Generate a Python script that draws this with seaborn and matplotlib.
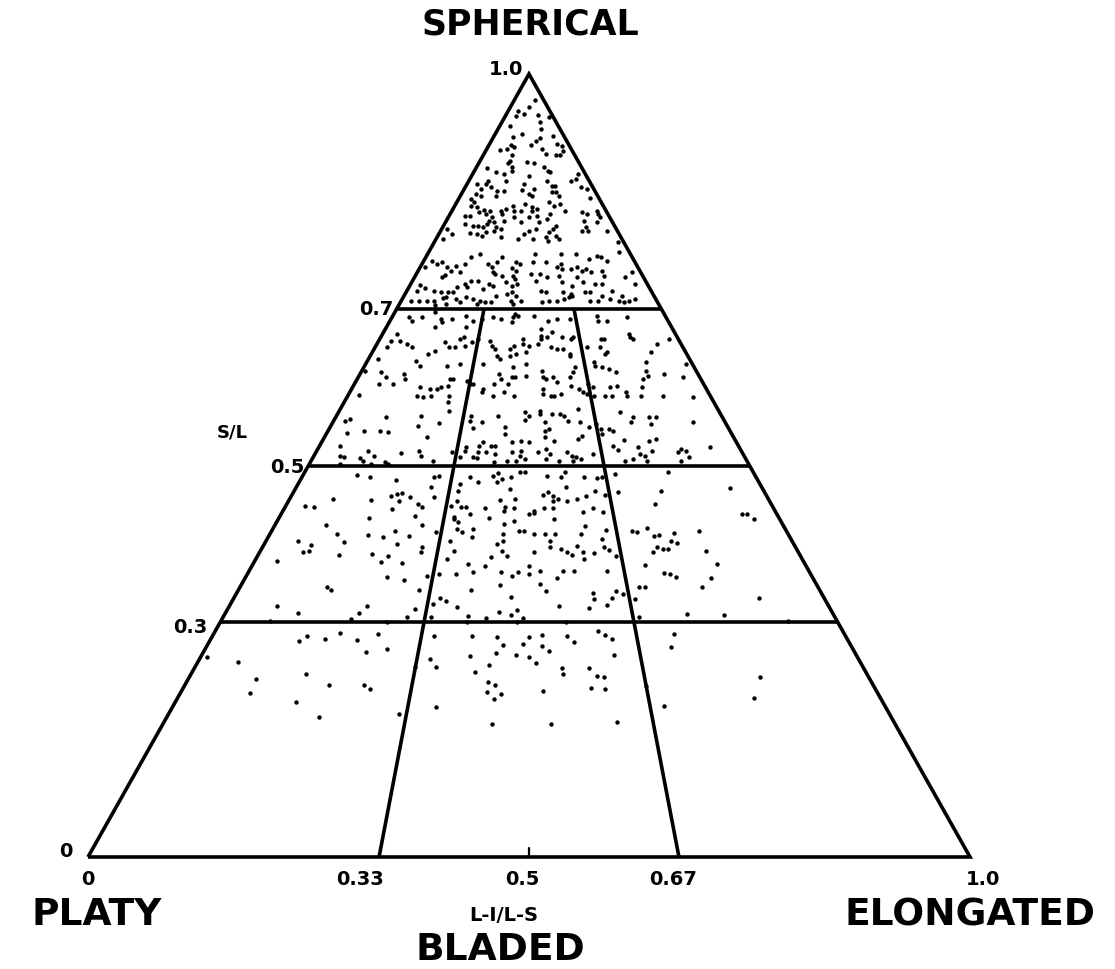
import numpy as np
import pandas as pd
import matplotlib
matplotlib.use("Agg")
import matplotlib.pyplot as plt
import seaborn as sns

# Particle shape measurements as (S/L, L-I/L-S) pairs, grouped by sphericity zone
upper_points = [
    (0.967,0.71),(0.958,0.50),(0.953,0.24),(0.946,0.23),(0.949,0.39),(0.948,0.69),(0.945,0.91),(0.939,0.70),
    (0.934,0.18),(0.923,0.40),(0.920,0.28),(0.930,0.69),(0.921,0.84),(0.918,0.65),(0.914,0.59),(0.909,0.53),
    (0.909,0.28),(0.907,0.32),(0.904,0.24),(0.903,0.16),(0.904,0.65),(0.898,0.69),(0.897,0.80),(0.897,0.84),
    (0.911,0.86),(0.908,0.91),(0.902,0.89),(0.897,0.31),(0.889,0.31),(0.886,0.29),(0.881,0.34),(0.876,0.34),
    (0.888,0.48),(0.886,0.55),(0.880,0.10),(0.875,0.20),(0.872,0.28),(0.881,0.64),(0.876,0.67),(0.875,0.69),
    (0.870,0.50),(0.872,0.93),(0.863,0.85),(0.866,0.90),(0.860,0.46),(0.863,0.16),(0.860,0.15),(0.860,0.08),
    (0.853,0.13),(0.856,0.20),(0.851,0.26),(0.851,0.31),(0.863,0.31),(0.852,0.45),(0.847,0.50),(0.853,0.54),
    (0.844,0.52),(0.863,0.65),(0.857,0.68),(0.857,0.71),(0.849,0.67),(0.849,0.70),(0.844,0.72),(0.856,0.91),
    (0.853,0.95),(0.842,0.94),(0.847,0.11),(0.840,0.09),(0.837,0.12),(0.844,0.15),(0.844,0.26),(0.831,0.11),
    (0.830,0.15),(0.824,0.18),(0.826,0.21),(0.821,0.23),(0.825,0.25),(0.825,0.32),(0.821,0.33),(0.828,0.35),
    (0.825,0.40),(0.831,0.39),(0.825,0.45),(0.834,0.47),(0.830,0.52),(0.825,0.52),(0.828,0.55),(0.837,0.64),
    (0.831,0.67),(0.834,0.71),(0.821,0.63),(0.825,0.73),(0.824,0.84),(0.821,0.87),(0.825,0.94),(0.821,0.94),
    (0.817,0.94),(0.811,0.91),(0.819,0.10),(0.819,0.13),(0.808,0.12),(0.806,0.17),(0.806,0.20),(0.805,0.23),
    (0.808,0.25),(0.812,0.26),(0.817,0.27),(0.811,0.29),(0.805,0.31),(0.812,0.35),(0.817,0.41),(0.811,0.45),
    (0.817,0.50),(0.819,0.55),(0.811,0.56),(0.815,0.61),(0.806,0.66),(0.802,0.64),(0.812,0.83),(0.805,0.83),
    (0.799,0.80),(0.799,0.83),(0.799,0.94),(0.802,0.03),(0.796,0.07),(0.789,0.04),(0.797,0.17),(0.796,0.21),
    (0.793,0.24),(0.798,0.26),(0.799,0.30),(0.802,0.34),(0.792,0.35),(0.789,0.44),(0.796,0.47),(0.799,0.50),
    (0.802,0.54),(0.789,0.52),(0.792,0.59),(0.787,0.60),(0.793,0.65),(0.789,0.66),(0.798,0.61),(0.785,0.97),
    (0.761,0.04),(0.757,0.07),(0.760,0.09),(0.754,0.12),(0.755,0.16),(0.748,0.15),(0.747,0.19),(0.757,0.20),
    (0.766,0.22),(0.770,0.26),(0.757,0.31),(0.754,0.33),(0.760,0.35),(0.766,0.37),(0.747,0.34),(0.745,0.35),
    (0.742,0.38),(0.752,0.42),(0.742,0.43),(0.754,0.02),(0.743,0.13),(0.741,0.12),(0.731,0.04),(0.727,0.07),
    (0.723,0.11),(0.722,0.14),(0.722,0.17),(0.722,0.19),(0.728,0.20),(0.732,0.23),(0.728,0.24),(0.736,0.25),
    (0.736,0.28),(0.725,0.31),(0.732,0.33),(0.729,0.35),(0.734,0.40),(0.729,0.43),(0.723,0.04),(0.710,0.04),
    (0.710,0.07),(0.710,0.10),(0.710,0.13),(0.714,0.16),(0.715,0.17),(0.713,0.21),(0.709,0.23),(0.715,0.25),
    (0.713,0.28),(0.710,0.31),(0.709,0.33),(0.709,0.35),(0.716,0.37),(0.719,0.41),(0.722,0.43),(0.705,0.14),
    (0.706,0.18),(0.706,0.30),
    (0.760,0.44),(0.757,0.46),(0.770,0.53),(0.760,0.58),(0.760,0.52),(0.770,0.66),(0.757,0.65),(0.770,0.73),
    (0.764,0.79),(0.768,0.83),(0.766,0.85),(0.761,0.87),(0.773,0.95),(0.748,0.44),(0.745,0.51),(0.745,0.55),
    (0.741,0.58),(0.736,0.53),(0.754,0.63),(0.751,0.65),(0.751,0.69),(0.754,0.72),(0.748,0.74),(0.751,0.76),
    (0.747,0.78),(0.748,0.83),(0.742,0.83),(0.741,0.71),(0.742,0.63),(0.734,0.64),(0.729,0.68),(0.734,0.73),
    (0.732,0.78),(0.732,0.81),(0.741,0.92),(0.747,0.96),(0.732,0.95),(0.738,0.44),(0.732,0.45),(0.716,0.45),
    (0.723,0.55),(0.722,0.57),(0.722,0.64),(0.719,0.67),(0.722,0.73),(0.722,0.75),(0.716,0.79),(0.723,0.84),
    (0.716,0.87),(0.709,0.55),(0.710,0.58),(0.710,0.61),(0.713,0.64),(0.715,0.66),(0.716,0.67),(0.710,0.74),
    (0.710,0.77),(0.713,0.82),(0.710,0.85),(0.709,0.87),(0.710,0.89),(0.713,0.92),(0.706,0.44),(0.710,0.43),
    (0.710,0.47),
]

middle_points = [
    (0.690,0.06),(0.685,0.08),(0.690,0.11),(0.696,0.15),(0.687,0.18),(0.683,0.19),(0.687,0.22),(0.691,0.27),
    (0.677,0.17),(0.677,0.28),(0.685,0.30),(0.687,0.33),(0.690,0.37),(0.687,0.40),(0.690,0.44),(0.668,0.05),
    (0.659,0.04),(0.659,0.07),(0.651,0.04),(0.655,0.10),(0.651,0.12),(0.658,0.22),(0.651,0.24),(0.651,0.26),
    (0.662,0.27),(0.664,0.28),(0.653,0.29),(0.658,0.31),(0.662,0.33),(0.659,0.37),(0.653,0.38),(0.649,0.39),
    (0.646,0.20),(0.642,0.18),(0.636,0.03),(0.633,0.15),(0.627,0.17),(0.627,0.25),(0.630,0.29),(0.630,0.36),
    (0.640,0.40),(0.636,0.41),(0.640,0.44),(0.621,0.01),(0.619,0.06),(0.613,0.08),(0.617,0.13),(0.610,0.14),
    (0.604,0.11),(0.604,0.07),(0.610,0.27),(0.610,0.28),(0.608,0.32),(0.604,0.33),(0.604,0.34),(0.617,0.41),
    (0.610,0.42),(0.604,0.40),(0.604,0.44),(0.613,0.45),(0.600,0.19),(0.598,0.22),(0.598,0.24),(0.600,0.25),
    (0.602,0.27),(0.589,0.19),(0.587,0.21),(0.589,0.23),(0.589,0.28),(0.594,0.37),(0.598,0.37),(0.589,0.40),
    (0.594,0.43),(0.590,0.03),(0.563,0.22),(0.581,0.28),(0.570,0.29),(0.563,0.35),(0.563,0.42),(0.559,0.04),
    (0.562,0.13),
    (0.693,0.45),(0.691,0.46),(0.683,0.44),(0.691,0.52),(0.685,0.57),(0.687,0.60),(0.687,0.65),(0.691,0.75),
    (0.685,0.75),(0.685,0.78),(0.690,0.86),(0.674,0.54),(0.670,0.58),(0.665,0.54),(0.662,0.54),(0.664,0.56),
    (0.664,0.61),(0.662,0.64),(0.664,0.65),(0.662,0.48),(0.655,0.48),(0.653,0.45),(0.649,0.44),(0.653,0.50),
    (0.655,0.53),(0.651,0.57),(0.649,0.59),(0.649,0.61),(0.642,0.63),(0.640,0.63),(0.645,0.49),(0.642,0.46),
    (0.662,0.74),(0.662,0.75),(0.651,0.73),(0.642,0.74),(0.645,0.75),(0.651,0.69),(0.632,0.70),(0.627,0.70),
    (0.626,0.72),(0.623,0.74),(0.619,0.76),(0.664,0.84),(0.662,0.85),(0.668,0.84),(0.655,0.92),(0.645,0.89),
    (0.662,0.97),(0.632,0.86),(0.621,0.85),(0.614,0.85),(0.617,0.90),(0.630,0.98),(0.613,0.95),(0.610,0.83),
    (0.600,0.82),(0.589,0.81),(0.589,0.87),(0.587,0.95),(0.594,0.77),(0.589,0.77),(0.602,0.75),(0.600,0.73),
    (0.589,0.73),(0.589,0.71),(0.630,0.49),(0.626,0.45),(0.613,0.46),(0.614,0.49),(0.621,0.54),(0.613,0.54),
    (0.610,0.55),(0.613,0.57),(0.607,0.58),(0.598,0.54),(0.591,0.54),(0.589,0.56),(0.589,0.57),(0.591,0.59),
    (0.613,0.62),(0.602,0.62),(0.619,0.63),(0.626,0.64),(0.598,0.64),(0.594,0.65),(0.591,0.66),(0.589,0.68),
    (0.604,0.67),(0.600,0.68),(0.589,0.46),(0.568,0.49),(0.563,0.50),(0.570,0.53),(0.566,0.53),(0.566,0.56),
    (0.566,0.58),(0.563,0.59),(0.572,0.63),(0.568,0.74),(0.562,0.77),(0.562,0.81),(0.562,0.83),
    (0.557,0.03),(0.544,0.09),(0.544,0.13),(0.543,0.15),(0.541,0.05),(0.550,0.22),(0.525,0.05),(0.519,0.12),
    (0.512,0.06),(0.511,0.07),(0.510,0.11),(0.506,0.12),(0.512,0.14),(0.502,0.14),(0.516,0.20),(0.502,0.07),
    (0.504,0.17),(0.502,0.18),(0.519,0.24),(0.512,0.25),
    (0.554,0.27),(0.536,0.25),(0.557,0.35),(0.556,0.38),(0.548,0.36),(0.549,0.44),(0.540,0.44),(0.558,0.49),
    (0.556,0.54),(0.544,0.54),(0.547,0.55),(0.557,0.60),(0.556,0.63),(0.549,0.65),(0.538,0.63),(0.534,0.62),
    (0.530,0.39),(0.525,0.38),(0.525,0.41),(0.525,0.42),(0.524,0.35),(0.519,0.35),(0.517,0.38),(0.517,0.40),
    (0.515,0.42),(0.530,0.46),(0.531,0.48),(0.530,0.50),(0.517,0.46),(0.519,0.48),(0.512,0.48),(0.517,0.52),
    (0.536,0.54),(0.521,0.54),(0.515,0.55),(0.531,0.56),(0.517,0.59),(0.512,0.60),(0.511,0.61),(0.508,0.62),
    (0.515,0.65),(0.517,0.32),(0.511,0.34),(0.511,0.37),(0.510,0.38),(0.506,0.45),(0.506,0.47),(0.508,0.49),
    (0.504,0.42),(0.508,0.54),(0.506,0.57),(0.506,0.60),(0.506,0.28),
    (0.553,0.67),(0.547,0.68),(0.540,0.68),(0.547,0.70),(0.544,0.71),(0.556,0.76),(0.553,0.81),(0.556,0.92),
    (0.533,0.73),(0.525,0.70),(0.520,0.71),(0.524,0.76),(0.531,0.79),(0.534,0.81),(0.519,0.79),(0.515,0.76),
    (0.512,0.77),(0.506,0.72),(0.508,0.74),(0.506,0.77),(0.517,0.85),(0.521,0.86),(0.519,0.87),(0.511,0.87),
    (0.506,0.85),(0.524,0.93),
]

lower_points = [
    (0.488,0.12),(0.485,0.15),(0.481,0.21),(0.457,0.09),(0.456,0.17),(0.461,0.21),(0.464,0.22),(0.465,0.23),
    (0.455,0.23),(0.460,0.25),(0.451,0.27),(0.447,0.28),(0.448,0.04),(0.447,0.06),(0.444,0.22),(0.436,0.27),
    (0.433,0.18),(0.424,0.10),(0.424,0.29),(0.413,0.13),(0.411,0.19),(0.409,0.22),(0.416,0.24),(0.410,0.27),
    (0.404,0.06),(0.402,0.15),(0.398,0.09),(0.400,0.25),(0.390,0.08),(0.391,0.09),(0.386,0.15),(0.387,0.21),
    (0.384,0.24),(0.390,0.30),(0.378,0.04),(0.377,0.23),(0.375,0.27),(0.358,0.25),(0.354,0.28),(0.345,0.15),
    (0.485,0.29),(0.487,0.30),(0.473,0.29),(0.460,0.30),(0.476,0.35),(0.467,0.35),(0.455,0.35),(0.448,0.34),
    (0.447,0.36),(0.447,0.37),(0.485,0.37),(0.479,0.39),(0.487,0.42),(0.490,0.43),(0.479,0.43),(0.483,0.44),
    (0.485,0.46),(0.492,0.48),(0.492,0.49),(0.487,0.54),(0.492,0.58),(0.485,0.57),(0.485,0.62),(0.467,0.64),
    (0.470,0.46),(0.456,0.44),(0.457,0.47),(0.447,0.45),(0.442,0.45),(0.446,0.47),(0.446,0.41),(0.438,0.38),
    (0.433,0.42),(0.438,0.50),(0.442,0.51),(0.439,0.51),(0.446,0.53),(0.462,0.53),(0.466,0.54),(0.446,0.55),
    (0.455,0.55),(0.461,0.55),(0.457,0.56),(0.473,0.58),(0.455,0.58),(0.457,0.60),(0.461,0.62),(0.441,0.61),
    (0.432,0.55),(0.425,0.45),(0.429,0.47),(0.416,0.48),(0.416,0.49),(0.434,0.35),(0.432,0.35),(0.428,0.36),
    (0.419,0.36),(0.415,0.37),(0.419,0.39),(0.409,0.39),(0.415,0.32),(0.396,0.30),(0.404,0.35),(0.391,0.36),
    (0.381,0.35),(0.413,0.45),(0.404,0.45),(0.400,0.44),(0.391,0.45),(0.384,0.46),(0.383,0.43),(0.390,0.51),
    (0.413,0.51),(0.413,0.53),(0.413,0.55),(0.404,0.54),(0.396,0.54),(0.393,0.56),(0.390,0.57),(0.386,0.58),
    (0.397,0.59),(0.413,0.60),(0.423,0.61),(0.390,0.60),(0.374,0.39),(0.372,0.42),(0.364,0.40),(0.361,0.37),
    (0.361,0.34),(0.359,0.32),(0.364,0.45),(0.372,0.50),(0.364,0.48),(0.359,0.47),(0.361,0.50),(0.365,0.52),
    (0.356,0.55),(0.365,0.56),(0.365,0.58),(0.381,0.60),(0.347,0.45),(0.349,0.52),
    (0.484,0.65),(0.485,0.66),(0.489,0.69),(0.492,0.81),(0.462,0.66),(0.466,0.69),(0.467,0.78),(0.451,0.76),
    (0.471,0.93),(0.446,0.63),(0.441,0.65),(0.416,0.70),(0.415,0.71),(0.420,0.73),(0.410,0.74),(0.411,0.75),
    (0.414,0.78),(0.404,0.77),(0.401,0.78),(0.416,0.83),(0.438,0.93),(0.438,0.94),(0.432,0.95),(0.418,0.65),
    (0.406,0.64),(0.396,0.64),(0.392,0.65),(0.388,0.62),(0.384,0.66),(0.396,0.74),(0.390,0.73),(0.393,0.75),
    (0.393,0.76),(0.391,0.83),(0.373,0.71),(0.374,0.84),(0.365,0.64),(0.363,0.74),(0.362,0.75),(0.358,0.76),
    (0.356,0.82),(0.345,0.69),(0.345,0.70),(0.345,0.80),
    (0.341,0.16),(0.321,0.08),(0.312,0.12),(0.321,0.23),(0.312,0.22),(0.304,0.21),(0.301,0.08),(0.300,0.27),
    (0.341,0.31),(0.331,0.35),(0.327,0.36),(0.341,0.40),(0.332,0.47),(0.340,0.53),(0.317,0.31),(0.307,0.30),
    (0.323,0.34),(0.307,0.34),(0.319,0.38),(0.308,0.40),(0.300,0.40),(0.305,0.43),(0.313,0.45),(0.309,0.47),
    (0.315,0.48),(0.305,0.49),(0.300,0.48),(0.321,0.55),(0.300,0.56),(0.318,0.60),
    (0.337,0.61),(0.330,0.61),(0.340,0.65),(0.336,0.66),(0.331,0.64),(0.322,0.63),(0.330,0.68),(0.307,0.68),
    (0.310,0.76),(0.309,0.82),(0.331,0.89),(0.301,0.92),
]

base_points = [
    (0.276,0.14),(0.282,0.15),(0.278,0.18),(0.286,0.20),(0.277,0.23),(0.285,0.26),(0.262,0.25),(0.266,0.28),
    (0.255,0.01),(0.249,0.06),(0.227,0.10),(0.234,0.17),(0.220,0.21),(0.220,0.26),(0.215,0.27),(0.209,0.10),
    (0.198,0.17),(0.179,0.21),
    (0.282,0.35),(0.282,0.41),(0.281,0.45),(0.271,0.46),(0.261,0.45),(0.272,0.49),(0.281,0.50),(0.284,0.52),
    (0.269,0.52),(0.263,0.53),(0.258,0.48),(0.255,0.50),(0.248,0.51),(0.282,0.56),(0.275,0.57),(0.257,0.41),
    (0.253,0.35),(0.243,0.36),(0.243,0.33),(0.245,0.44),(0.236,0.42),(0.241,0.55),(0.234,0.55),(0.241,0.59),
    (0.224,0.44),(0.220,0.45),(0.211,0.44),(0.208,0.46),(0.202,0.45),(0.212,0.52),(0.216,0.59),(0.192,0.37),
    (0.183,0.32),(0.170,0.45),(0.170,0.53),
    (0.289,0.61),(0.284,0.62),(0.278,0.63),(0.285,0.73),(0.268,0.72),(0.258,0.63),(0.231,0.60),(0.230,0.61),
    (0.215,0.61),(0.218,0.67),(0.193,0.69),(0.230,0.84),(0.203,0.82),(0.172,0.62),
]

# Class boundaries and axis labels
sl_limits = [0.3, 0.5, 0.7]
li_limits = [0.33, 0.67]
sl_tick_values = [1.0, 0.7, 0.5, 0.3, 0.0]
sl_tick_labels = ["1.0", "0.7", "0.5", "0.3", "0"]
li_tick_values = [0.0, 0.33, 0.5, 0.67, 1.0]
li_tick_labels = ["0", "0.33", "0.5", "0.67", "1.0"]


def project(sl, li):
    """Map (S/L, L-I/L-S) onto the triangle: apex at S/L = 1, base at S/L = 0."""
    sl = np.asarray(sl, dtype=float)
    li = np.asarray(li, dtype=float)
    return 0.5 * sl + li * (1.0 - sl), sl


pairs = np.array(upper_points + middle_points + lower_points + base_points)
px, py = project(pairs[:, 0], pairs[:, 1])
df = pd.DataFrame({"x": px, "y": py})

sns.set_theme(style="white")
plt.rcParams["font.family"] = ["DejaVu Sans"]
plt.rcParams["text.color"] = "black"

fig = plt.figure(figsize=(11.15, 9.70), dpi=100)
ax = fig.add_axes([88 / 1115, 112 / 970, 882 / 1115, 783 / 970])
ax.set_xlim(0, 1)
ax.set_ylim(0, 1)
ax.set_axis_off()

LW = 2.6
line_kw = dict(color="black", lw=LW, solid_capstyle="butt", clip_on=False, zorder=3)

# Outer triangle
tx, ty = project([0, 0, 1, 0], [0, 1, 0, 0])
ax.plot(tx, ty, solid_joinstyle="miter", **line_kw)

# Horizontal sphericity limits
for s in sl_limits:
    hx, hy = project([s, s], [0, 1])
    ax.plot(hx, hy, **line_kw)

# Converging form limits from the base up to S/L = 0.7
for t in li_limits:
    vx, vy = project([0, 0.7], [t, t])
    ax.plot(vx, vy, **line_kw)

# Short mark at the middle of the base
mx, my = project([0, 0.012], [0.5, 0.5])
ax.plot(mx, my, color="black", lw=1.6, clip_on=False, zorder=3)

sns.scatterplot(data=df, x="x", y="y", ax=ax, color="black", s=10,
                linewidth=0, legend=False, zorder=4, clip_on=False)
ax.set_xlabel("")
ax.set_ylabel("")

small = dict(fontsize=14, fontweight="bold", color="black")
big = dict(fontsize=27, fontweight="bold", color="black")

# S/L labels along the left side
sl_label_pos = {"1.0": (0.493, 1.007), "0.7": (0.346, 0.700), "0.5": (0.246, 0.499),
                "0.3": (0.135, 0.295), "0": (-0.018, 0.008)}
for lab in sl_tick_labels:
    x, y = sl_label_pos[lab]
    ax.text(x, y, lab, ha="right", va="center", **small)
ax.text(0.164, 0.544, "S/L", ha="center", va="center", fontsize=13,
        fontweight="bold", color="black")

# L-I/L-S labels along the base
li_label_x = [0.0, 0.308, 0.492, 0.663, 1.015]
for x, lab in zip(li_label_x, li_tick_labels):
    ax.text(x, -0.028, lab, ha="center", va="center", **small)
ax.text(0.471, -0.073, "L-I/L-S", ha="center", va="center", fontsize=14,
        fontweight="bold", color="black")

# Form names at the corners
ax.text(0.501, 1.064, "SPHERICAL", ha="center", va="center", fontsize=25,
        fontweight="bold", color="black")
ax.text(0.010, -0.073, "PLATY", ha="center", va="center", **big)
ax.text(0.467, -0.117, "BLADED", ha="center", va="center", **big)
ax.text(1.000, -0.073, "ELONGATED", ha="center", va="center", **big)

fig.savefig("out.png", dpi=100, facecolor="white")
